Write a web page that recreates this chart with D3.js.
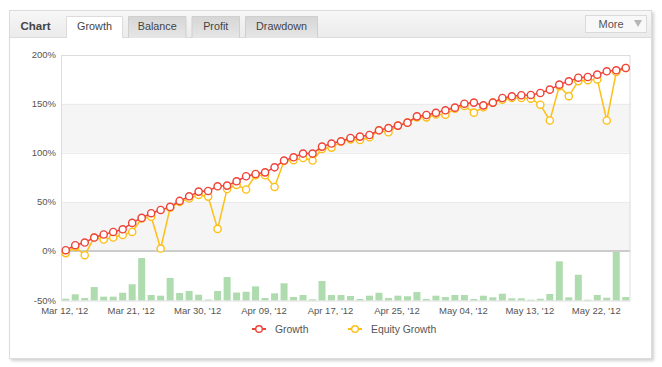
<!DOCTYPE html>
<html><head><meta charset="utf-8">
<script src="https://cdn.jsdelivr.net/npm/d3@7"></script>
<style>
html,body{margin:0;padding:0;background:#fff;}
svg{display:block;font-family:"Liberation Sans",Arial,sans-serif;}
</style></head>
<body>
<svg id="c" width="662" height="367"></svg>
<script>
const tickLabels = ["Mar 12, '12","Mar 21, '12","Mar 30, '12","Apr 09, '12","Apr 17, '12","Apr 25, '12","May 04, '12","May 13, '12","May 22, '12"];
const yTicks = [-50, 0, 50, 100, 150, 200];
const tabs = ["Growth","Balance","Profit","Drawdown"];
const seriesNames = ["Growth","Equity Growth"];
const growth = [0.7,5.8,8.5,13.6,16.7,19.3,22,28.5,33.6,38.4,41.7,44.8,50.9,55.6,60.4,61,65.8,66.5,70.9,76,
  78.3,80,85.1,92,95.3,99.1,99.1,106.2,109.3,111.6,115,116.4,118,122.8,125.1,127.6,130.6,137,138.4,140.6,
  143.2,145.9,149.9,151,148.2,151,155.7,157.4,158.5,158.8,160.8,164.2,169.3,172.7,176.4,177.1,179.5,182.9,183.9,186.3];
const equity = [-2.3,4.1,-4.4,13.6,11.6,13.6,16.3,19.3,33,34.8,2.4,44,49.8,53.3,57,55.3,22.4,63,67.2,62.5,
  77,77,65.1,91.6,92.3,94.6,92,103.8,105.2,111.3,113.6,113,115.7,122.8,120.8,127.6,130.6,136,136,139,
  138.7,144.8,147.6,140.8,146.3,151,154,155.7,155.7,155,148.9,132.8,167.8,157.6,172.9,173.9,174.6,132.8,182.2,186.3];
const bars = [1.3,5.8,2,13.2,3.4,3.4,7.4,16,42.7,5.1,4.4,22.4,7.1,9.2,5.4,0.5,9.2,23.4,7.6,8.4,
  13.9,2,6.8,17,3,5.1,0.7,19.3,5.1,5.1,4.1,1,4.4,7.4,2,4.4,3.8,8.1,1,4.4,
  3,5.1,5.1,1,4.4,2.7,6.4,1.7,1.7,0.3,1.3,6.1,39.4,2.7,25.7,0.3,5.1,2.3,50,3];

const svg = d3.select("#c");
const defs = svg.append("defs");
const f = defs.append("filter").attr("id","sh").attr("x","-5%").attr("y","-5%").attr("width","110%").attr("height","110%");
f.append("feDropShadow").attr("dx",2).attr("dy",2).attr("stdDeviation",1.5).attr("flood-color","#000").attr("flood-opacity",0.18);
const hg = defs.append("linearGradient").attr("id","hg").attr("x1",0).attr("y1",0).attr("x2",0).attr("y2",1);
hg.append("stop").attr("offset","0%").attr("stop-color","#f7f7f7");
hg.append("stop").attr("offset","100%").attr("stop-color","#ebebeb");
const tg = defs.append("linearGradient").attr("id","tg").attr("x1",0).attr("y1",0).attr("x2",0).attr("y2",1);
tg.append("stop").attr("offset","0%").attr("stop-color","#d6d6d6");
tg.append("stop").attr("offset","100%").attr("stop-color","#e6e6e6");

// panel
svg.append("rect").attr("x",9.5).attr("y",10.5).attr("width",642).attr("height",348)
  .attr("fill","#fff").attr("stroke","#dcdcdc").attr("filter","url(#sh)");
svg.append("rect").attr("x",10).attr("y",11).attr("width",641).attr("height",26).attr("fill","url(#hg)");
svg.append("line").attr("x1",10).attr("x2",651).attr("y1",37.5).attr("y2",37.5).attr("stroke","#dcdcdc");
svg.append("text").attr("x",20.5).attr("y",29.5).attr("font-size","11.5px").attr("font-weight","bold")
  .attr("fill","#444").text("Chart");

const tabX = [[66.5,122.5],[128.5,186],[192,239.5],[245.5,317.5]];
tabs.forEach((t,i)=>{
  const [a,b] = tabX[i];
  const active = i===0;
  svg.append("path").attr("d",`M${a},38 V16.5 H${b} V38`)
    .attr("fill", active ? "#fff" : "url(#tg)").attr("stroke", active ? "#dcdcdc" : "#cfcfcf");
  if(active) svg.append("rect").attr("x",a+0.5).attr("y",36).attr("width",b-a-1).attr("height",3).attr("fill","#fff");
  svg.append("text").attr("x",(a+b)/2).attr("y",30).attr("text-anchor","middle")
    .attr("font-size","10.8px").attr("fill","#444").text(t);
});
// More button
svg.append("rect").attr("x",585.5).attr("y",15.5).attr("width",61).attr("height",17)
  .attr("fill","#f8f8f8").attr("stroke","#dadada");
svg.append("text").attr("x",598.5).attr("y",28).attr("font-size","11px").attr("fill","#555").text("More");
svg.append("path").attr("d","M634,20 L642,20 L638,27 Z").attr("fill","#b5b5b5");

// plot
const L=61, R=630.5, T=55, B=300.5;
const x = d3.scaleBand().domain(d3.range(growth.length)).range([L,R]);
const y = d3.scaleLinear().domain([-50,200]).range([300,54.5]);
const yb = d3.scaleLinear().domain([0,50]).range([y(-50), y(0)]);
const cx = i => x(i) + x.bandwidth()/2;

const g = svg.append("g");
// bands
[[100,150],[0,50]].forEach(([a,b])=>{
  g.append("rect").attr("x",L).attr("y",y(b)).attr("width",R-L).attr("height",y(a)-y(b)).attr("fill","#f5f5f5");
});
[50,100,150].forEach(v=>{
  g.append("line").attr("x1",L).attr("x2",R).attr("y1",Math.round(y(v))+0.5).attr("y2",Math.round(y(v))+0.5)
   .attr("stroke","#ebebeb");
});
// bars
const bw = 7;
g.selectAll("rect.bar").data(bars).join("rect").attr("class","bar")
  .attr("x",(d,i)=>cx(i)-bw/2).attr("width",bw)
  .attr("y",d=>yb(d)).attr("height",d=>Math.max(0,y(-50)-yb(d)+0.5))
  .attr("fill","#aedcae");
// zero line
g.append("line").attr("x1",L).attr("x2",R).attr("y1",y(0)).attr("y2",y(0)).attr("stroke","#cccccc").attr("stroke-width",2);
// frame
g.append("rect").attr("x",L+0.5).attr("y",T+0.5).attr("width",R-L-1).attr("height",B-T).attr("fill","none").attr("stroke","#dddddd");

// y labels
yTicks.forEach(v=>{
  svg.append("text").attr("x",56).attr("y",y(v)+3.5).attr("text-anchor","end")
    .attr("font-size","9.5px").attr("fill","#555").text(v+"%");
});
// x axis
const xa = d3.axisBottom(x).tickValues(d3.range(0,growth.length,7)).tickSize(0)
  .tickFormat((d,i)=>tickLabels[i]);
const xg = svg.append("g").attr("transform",`translate(0,${B+4})`).call(xa);
xg.select(".domain").remove();
xg.selectAll("text").attr("font-size","9.5px").attr("fill","#555").attr("font-family","Liberation Sans, Arial, sans-serif").attr("dx","-1");

// lines
const line = d3.line().x((d,i)=>cx(i)).y(d=>y(d));
const series = [{v:equity,c:"#fdbf16"},{v:growth,c:"#ef4238"}];
series.forEach(s=>{
  g.append("path").datum(s.v).attr("d",line).attr("fill","none").attr("stroke",s.c).attr("stroke-width",1.5);
  g.append("g").selectAll("circle").data(s.v).join("circle")
    .attr("cx",(d,i)=>cx(i)).attr("cy",d=>y(d)).attr("r",3.6)
    .attr("fill","#fff").attr("stroke",s.c).attr("stroke-width",1.4);
});

// legend
const leg = [{n:seriesNames[0],c:"#ef4238",mx:259,tx:275},{n:seriesNames[1],c:"#fdbf16",mx:355,tx:371}];
leg.forEach(l=>{
  svg.append("line").attr("x1",l.mx-7).attr("x2",l.mx+7).attr("y1",329).attr("y2",329).attr("stroke",l.c).attr("stroke-width",2);
  svg.append("circle").attr("cx",l.mx).attr("cy",329).attr("r",3.3).attr("fill","#fff").attr("stroke",l.c).attr("stroke-width",1.4);
  svg.append("text").attr("x",l.tx).attr("y",332.5).attr("font-size","10.4px").attr("fill","#555").text(l.n);
});
</script>
</body></html>
